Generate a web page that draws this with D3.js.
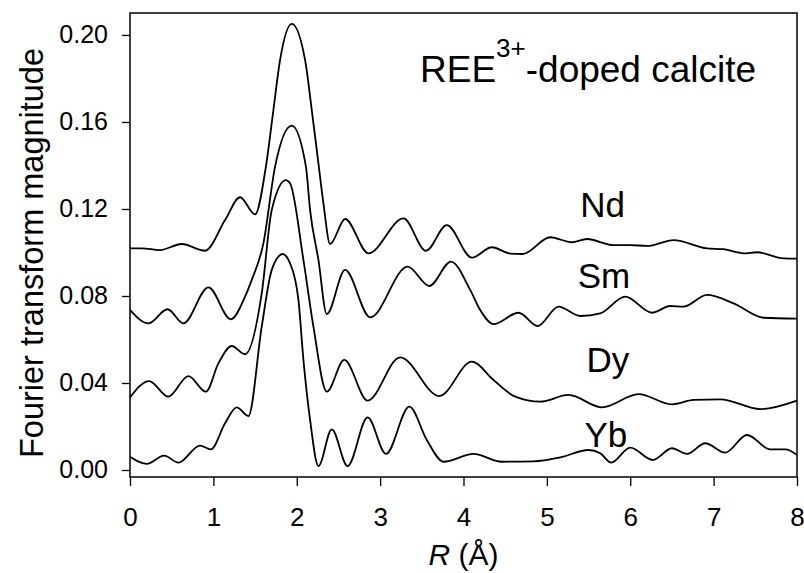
<!DOCTYPE html>
<html>
<head>
<meta charset="utf-8">
<script src="https://cdn.jsdelivr.net/npm/d3@7"></script>
<style>
  body { margin: 0; background: #fff; }
  svg { font-family: "Liberation Sans", Arial, sans-serif; }
</style>
</head>
<body>
<svg id="chart" width="804" height="573"></svg>
<script>
// [R (Å), FT magnitude]
const nd = [
  [0.00, 0.1019], [0.14, 0.1019], [0.36, 0.1011], [0.62, 0.1039], [0.90, 0.1008],
  [1.14, 0.1149], [1.32, 0.1254], [1.50, 0.1175], [1.63, 0.1395], [1.72, 0.1655],
  [1.80, 0.1885], [1.94, 0.2051], [2.10, 0.1885], [2.18, 0.1655], [2.26, 0.1410],
  [2.32, 0.1226], [2.40, 0.1039], [2.58, 0.1154], [2.86, 0.0996], [3.28, 0.1157],
  [3.55, 0.1008], [3.80, 0.1126], [4.10, 0.0976], [4.34, 0.1024], [4.56, 0.0995],
  [4.71, 0.0993], [5.04, 0.1070], [5.30, 0.1047], [5.48, 0.1062], [5.80, 0.1034],
  [6.00, 0.1034], [6.20, 0.1030], [6.52, 0.1057], [6.92, 0.1019], [7.12, 0.1015],
  [7.36, 0.0996], [7.52, 0.1001], [7.84, 0.0973], [8.00, 0.0972]
];

const sm = [
  [0.00, 0.0736], [0.22, 0.0674], [0.45, 0.0739], [0.64, 0.0674], [0.94, 0.0840],
  [1.21, 0.0693], [1.38, 0.0797], [1.46, 0.0874], [1.60, 0.1042], [1.74, 0.1395],
  [1.94, 0.1583], [2.11, 0.1395], [2.16, 0.1195], [2.26, 0.0966], [2.36, 0.0717],
  [2.58, 0.0920], [2.88, 0.0702], [3.33, 0.0935], [3.59, 0.0846], [3.85, 0.0958],
  [4.08, 0.0828], [4.20, 0.0736], [4.36, 0.0671], [4.66, 0.0723], [4.89, 0.0662],
  [5.14, 0.0751], [5.40, 0.0708], [5.64, 0.0720], [5.94, 0.0797], [6.26, 0.0723],
  [6.48, 0.0754], [6.64, 0.0751], [6.92, 0.0805], [7.24, 0.0766], [7.60, 0.0700],
  [8.00, 0.0696]
];

const dy = [
  [0.00, 0.0334], [0.23, 0.0409], [0.46, 0.0337], [0.70, 0.0432], [0.91, 0.0360],
  [1.06, 0.0490], [1.22, 0.0570], [1.38, 0.0532], [1.58, 0.0812], [1.70, 0.1195],
  [1.87, 0.1333], [1.92, 0.1318], [2.08, 0.0966], [2.20, 0.0659], [2.36, 0.0360],
  [2.57, 0.0506], [2.85, 0.0319], [3.24, 0.0518], [3.71, 0.0340], [4.10, 0.0498],
  [4.36, 0.0414], [4.62, 0.0337], [4.92, 0.0314], [5.26, 0.0345], [5.66, 0.0288],
  [6.10, 0.0349], [6.50, 0.0302], [6.76, 0.0322], [7.08, 0.0325], [7.56, 0.0280],
  [8.00, 0.0319]
];

const yb = [
  [0.00, 0.0061], [0.20, 0.0028], [0.41, 0.0066], [0.58, 0.0034], [0.84, 0.0112],
  [0.97, 0.0095], [1.14, 0.0215], [1.28, 0.0288], [1.42, 0.0248], [1.58, 0.0659],
  [1.70, 0.0920], [1.83, 0.0993], [1.92, 0.0950], [2.02, 0.0782], [2.08, 0.0506],
  [2.16, 0.0230], [2.26, 0.0018], [2.42, 0.0187], [2.61, 0.0018], [2.85, 0.0242],
  [3.07, 0.0074], [3.35, 0.0291], [3.56, 0.0138], [3.76, 0.0038], [4.12, 0.0074],
  [4.46, 0.0038], [4.84, 0.0040], [5.16, 0.0058], [5.50, 0.0092], [5.64, 0.0077],
  [5.77, 0.0034], [6.00, 0.0103], [6.27, 0.0046], [6.50, 0.0100], [6.68, 0.0074],
  [6.90, 0.0123], [7.14, 0.0080], [7.40, 0.0161], [7.68, 0.0095], [7.86, 0.0095],
  [8.00, 0.0069]
];

const seriesNames = ["Nd", "Sm", "Dy", "Yb"];
const seriesData = [nd, sm, dy, yb];
const xTicks = [0, 1, 2, 3, 4, 5, 6, 7, 8];
const yTicks = [0, 0.04, 0.08, 0.12, 0.16, 0.2];

// where each series name sits, in data units (R, magnitude)
const labelAt = [[5.40, 0.1165], [5.37, 0.0835], [5.475, 0.0452], [5.45, 0.0107]];

const margin = { top: 13, right: 7, bottom: 96, left: 130 };
const width = 804 - margin.left - margin.right;
const height = 573 - margin.top - margin.bottom;

const svg = d3.select("#chart");
const g = svg.append("g").attr("transform", `translate(${margin.left},${margin.top})`);

const x = d3.scaleLinear().domain([0, 8]).range([0, width]);
const y = d3.scaleLinear().domain([-0.00322, 0.2101]).range([height, 0]);

// x axis
const xAxis = g
  .append("g")
  .attr("transform", `translate(0,${height})`)
  .call(d3.axisBottom(x).tickValues(xTicks).tickSize(9).tickPadding(22).tickFormat(d3.format("d")));
xAxis.select(".domain").remove();
xAxis.selectAll("line").attr("stroke-width", 1.3);
xAxis.selectAll("text").attr("font-size", 26).attr("fill", "#000");

// y axis
const yAxis = g
  .append("g")
  .call(d3.axisLeft(y).tickValues(yTicks).tickSize(8).tickPadding(14).tickFormat(d3.format(".2f")));
yAxis.select(".domain").remove();
yAxis.selectAll("line").attr("stroke-width", 1.3);
yAxis.selectAll("text").attr("font-size", 25).attr("fill", "#000");

// frame
g.append("rect")
  .attr("width", width)
  .attr("height", height)
  .attr("fill", "none")
  .attr("stroke", "#000")
  .attr("stroke-width", 1.5);

const line = d3
  .line()
  .x(d => x(d[0]))
  .y(d => y(d[1]))
  .curve(d3.curveMonotoneX);

g.selectAll("path.series")
  .data(seriesData)
  .enter()
  .append("path")
  .attr("class", "series")
  .attr("d", line)
  .attr("fill", "none")
  .attr("stroke", "#000")
  .attr("stroke-width", 1.8);

g.selectAll("text.series-label")
  .data(seriesNames)
  .enter()
  .append("text")
  .attr("class", "series-label")
  .attr("x", (d, i) => x(labelAt[i][0]))
  .attr("y", (d, i) => y(labelAt[i][1]))
  .attr("font-size", 35)
  .text(d => d);

// title
const title = g
  .append("text")
  .attr("x", 290)
  .attr("y", 69)
  .attr("font-size", 37);
title.append("tspan").text("REE");
title.append("tspan").attr("font-size", 26).attr("dy", -25).text("3+");
title.append("tspan").attr("dy", 25).text("-doped calcite");

// axis titles
const xLabel = svg
  .append("text")
  .attr("x", margin.left + width / 2)
  .attr("y", 565)
  .attr("text-anchor", "middle")
  .attr("font-size", 30);
xLabel.append("tspan").attr("font-style", "italic").text("R");
xLabel.append("tspan").text(" (Å)");

svg
  .append("text")
  .attr("transform", `translate(43,${margin.top + 240}) rotate(-90)`)
  .attr("text-anchor", "middle")
  .attr("font-size", 32.5)
  .text("Fourier transform magnitude");
</script>
</body>
</html>
